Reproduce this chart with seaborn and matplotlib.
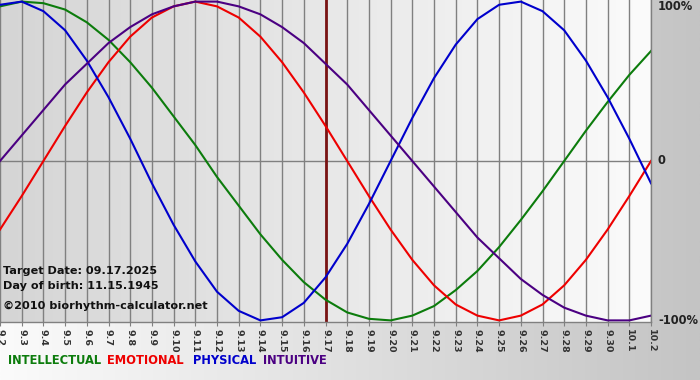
import numpy as np
import pandas as pd
import matplotlib.pyplot as plt
import seaborn as sns
from matplotlib.colors import LinearSegmentedColormap

dates = ['9.2', '9.3', '9.4', '9.5', '9.6', '9.7', '9.8', '9.9', '9.10', '9.11',
         '9.12', '9.13', '9.14', '9.15', '9.16', '9.17', '9.18', '9.19', '9.20', '9.21',
         '9.22', '9.23', '9.24', '9.25', '9.26', '9.27', '9.28', '9.29', '9.30', '10.1', '10.2']

intellectual = [0.97, 1.00, 0.99, 0.95, 0.87, 0.76, 0.62, 0.46, 0.28, 0.10,
                -0.10, -0.28, -0.46, -0.62, -0.76, -0.87, -0.95, -0.99, -1.00, -0.97,
                -0.91, -0.81, -0.69, -0.54, -0.37, -0.19, 0.00, 0.19, 0.37, 0.54, 0.69]
emotional = [-0.43, -0.22, 0.00, 0.22, 0.43, 0.62, 0.78, 0.90, 0.97, 1.00,
             0.97, 0.90, 0.78, 0.62, 0.43, 0.22, 0.00, -0.22, -0.43, -0.62,
             -0.78, -0.90, -0.97, -1.00, -0.97, -0.90, -0.78, -0.62, -0.43, -0.22, 0.00]
physical = [0.98, 1.00, 0.94, 0.82, 0.63, 0.40, 0.14, -0.14, -0.40, -0.63,
            -0.82, -0.94, -1.00, -0.98, -0.89, -0.73, -0.52, -0.27, 0.00, 0.27,
            0.52, 0.73, 0.89, 0.98, 1.00, 0.94, 0.82, 0.63, 0.40, 0.14, -0.14]
intuitive = [0.00, 0.16, 0.32, 0.48, 0.61, 0.74, 0.84, 0.92, 0.97, 1.00,
             1.00, 0.97, 0.92, 0.84, 0.74, 0.61, 0.48, 0.32, 0.16, 0.00,
             -0.16, -0.32, -0.48, -0.61, -0.74, -0.84, -0.92, -0.97, -1.00, -1.00, -0.97]

target_date = '9.17'
colors = {'INTELLECTUAL': '#0c7c0c', 'EMOTIONAL': '#ee0000',
          'PHYSICAL': '#0000cc', 'INTUITIVE': '#4b0082'}

df = pd.DataFrame({'day': range(len(dates)), 'INTELLECTUAL': intellectual,
                   'EMOTIONAL': emotional, 'PHYSICAL': physical, 'INTUITIVE': intuitive})
df = df.melt(id_vars='day', var_name='cycle', value_name='value')

plt.rcParams['font.family'] = 'DejaVu Sans'

fig = plt.figure(figsize=(7, 3.8), dpi=100)

# page background, white on the left going grey on the right
bg = fig.add_axes([0, 0, 1, 1], zorder=-10)
bg.imshow(np.linspace(0, 1, 256).reshape(1, -1), aspect='auto', extent=[0, 1, 0, 1],
          cmap=LinearSegmentedColormap.from_list('page', ['#fbfbfb', '#c4c4c4']))
bg.axis('off')

ax = fig.add_axes([0, 1 - 322 / 380, 651 / 700, 322 / 380])
ax.imshow(np.linspace(0, 1, 256).reshape(1, -1), aspect='auto', extent=[0, 30, -1.01, 1.01],
          cmap=LinearSegmentedColormap.from_list('plot', ['#d5d5d5', '#fbfbfb']), zorder=0)

ax.set_axisbelow(True)
ax.grid(axis='x', color='#808080', lw=1)
ax.axhline(0, color='#808080', lw=1, zorder=1)
ax.axvline(dates.index(target_date), color='#7a1414', lw=2, zorder=1.5)

sns.lineplot(data=df, x='day', y='value', hue='cycle', palette=colors, lw=1.5,
             legend=False, ax=ax, zorder=2)
for line in ax.get_lines():
    line.set_solid_joinstyle('round')

ax.set_xlim(0, len(dates) - 1)
ax.set_ylim(-1.01, 1.01)
ax.set_xticks(range(len(dates)))
ax.set_xticklabels(dates)
ax.set_yticks([])
ax.set_xlabel('')
ax.set_ylabel('')
ax.tick_params(axis='x', length=3, color='#808080', labelsize=6.8, labelcolor='#333333',
               labelrotation=270, pad=2)
for lbl in ax.get_xticklabels():
    lbl.set_fontweight('bold')
for side in ['top', 'left']:
    ax.spines[side].set_visible(False)
for side in ['bottom', 'right']:
    ax.spines[side].set_color('#808080')
    ax.spines[side].set_linewidth(1)

info = ['Target Date: 09.17.2025', 'Day of birth: 11.15.1945', '\u00a92010 biorhythm-calculator.net']
for txt, y in zip(info, [271, 286, 306]):
    fig.text(3 / 700, 1 - y / 380, txt, fontsize=8.1, fontweight='bold', color='#111111', va='center')

for txt, y in zip(['100%', '0', '-100%'], [7, 161, 321]):
    fig.text(658 / 700, 1 - y / 380, txt, fontsize=8.3, fontweight='bold', color='#222222', va='center')

for (name, col), x in zip(colors.items(), [8, 107, 193, 263]):
    fig.text(x / 700, 1 - 361 / 380, name, fontsize=8.3, fontweight='bold', color=col, va='center')

fig.savefig('out.png', dpi=100)
